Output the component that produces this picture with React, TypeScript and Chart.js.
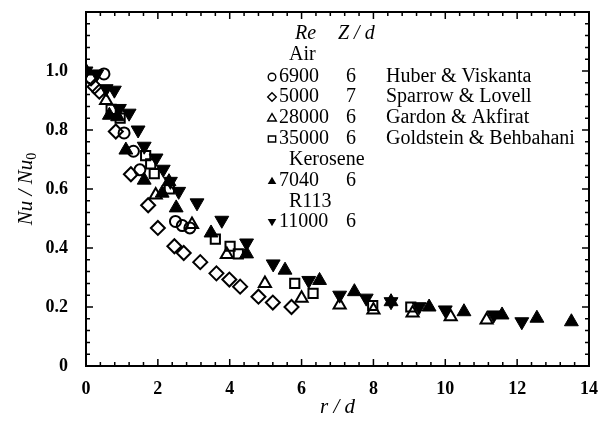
import React, { useEffect, useRef } from 'react';
import { Chart, registerables } from 'chart.js';

Chart.register(...registerables);

// Huber & Viskanta, Air, Re 6900
const circleX = [0.5, 1.06, 1.32, 1.5, 2.49, 2.68, 2.89];
const circleY = [0.99, 0.79, 0.728, 0.665, 0.49, 0.476, 0.468];
// Sparrow & Lovell, Air, Re 5000
const diamondX = [0.14, 0.24, 0.37, 0.83, 1.25, 1.73, 2.0, 2.46, 2.72, 3.18, 3.63, 3.99, 4.29, 4.8, 5.2, 5.72];
const diamondY = [0.975, 0.947, 0.93, 0.795, 0.65, 0.545, 0.468, 0.406, 0.383, 0.352, 0.314, 0.293, 0.269, 0.235, 0.215, 0.2];
// Gardon & Akfirat, Air, Re 28000
const triOpenX = [0.56, 1.94, 2.95, 3.92, 4.98, 6.0, 7.06, 8.0, 9.09, 10.15, 11.15];
const triOpenY = [0.9, 0.58, 0.48, 0.378, 0.28, 0.23, 0.207, 0.19, 0.18, 0.167, 0.156];
// Goldstein & Behbahani, Air, Re 35000
const squareX = [0.7, 0.95, 1.66, 1.8, 1.9, 2.32, 3.6, 4.01, 4.24, 5.81, 6.32, 7.98, 9.04];
const squareY = [0.87, 0.84, 0.713, 0.685, 0.652, 0.6, 0.43, 0.406, 0.38, 0.28, 0.246, 0.205, 0.2];
// Kerosene, Re 7040
const keroX = [0, 0.65, 0.88, 1.11, 1.62, 2.12, 2.31, 2.51, 3.48, 4.47, 5.54, 6.5, 7.47, 8.49, 9.55, 10.52, 11.58, 12.55, 13.51];
const keroY = [1.0, 0.85, 0.845, 0.732, 0.63, 0.586, 0.625, 0.536, 0.451, 0.38, 0.325, 0.29, 0.252, 0.218, 0.2, 0.184, 0.173, 0.162, 0.15];
// R113, Re 11000
const r113X = [0, 0.3, 0.56, 0.79, 0.93, 1.2, 1.45, 1.62, 1.95, 2.15, 2.35, 2.58, 3.09, 3.78, 4.47, 5.21, 6.2, 7.06, 7.8, 8.49, 9.27, 10.0, 11.35, 12.13];
const r113Y = [1.0, 0.99, 0.94, 0.935, 0.873, 0.857, 0.8, 0.745, 0.705, 0.667, 0.626, 0.592, 0.553, 0.494, 0.417, 0.346, 0.29, 0.24, 0.23, 0.218, 0.201, 0.19, 0.173, 0.15];

const legendRe = ['6900', '5000', '28000', '35000', '7040', '11000'];
const legendZd = ['6', '7', '6', '6', '6', '6'];
const legendAuthor = ['Huber & Viskanta', 'Sparrow & Lovell', 'Gardon & Akfirat', 'Goldstein & Behbahani', '', ''];
const legendGroups = ['Air', 'Kerosene', 'R113'];

const xMin = 0, xMax = 14, xMinor = 0.4, xMajor = 2;
const yMin = 0, yMax = 1.2, yMinor = 0.04, yMajor = 0.2, yLabelMax = 1.0;

const toPts = (xs: number[], ys: number[]) => xs.map((x, i) => ({ x, y: ys[i] }));

const isMult = (v: number, step: number) => Math.abs(v / step - Math.round(v / step)) < 1e-6;

const SERIF = '"Liberation Serif", "Times New Roman", serif';

function marker(ctx: CanvasRenderingContext2D, kind: string, x: number, y: number, r: number) {
  ctx.save();
  ctx.lineWidth = 1.4;
  ctx.strokeStyle = '#000';
  ctx.fillStyle = '#000';
  ctx.beginPath();
  if (kind === 'circle') {
    ctx.arc(x, y, r, 0, Math.PI * 2);
    ctx.stroke();
  } else if (kind === 'diamond') {
    ctx.moveTo(x, y - r); ctx.lineTo(x + r, y); ctx.lineTo(x, y + r); ctx.lineTo(x - r, y); ctx.closePath();
    ctx.stroke();
  } else if (kind === 'tri') {
    ctx.moveTo(x, y - r); ctx.lineTo(x + r, y + r * 0.7); ctx.lineTo(x - r, y + r * 0.7); ctx.closePath();
    ctx.stroke();
  } else if (kind === 'square') {
    ctx.rect(x - r * 0.85, y - r * 0.7, r * 1.7, r * 1.4);
    ctx.stroke();
  } else if (kind === 'triF') {
    ctx.moveTo(x, y - r); ctx.lineTo(x + r, y + r * 0.7); ctx.lineTo(x - r, y + r * 0.7); ctx.closePath();
    ctx.fill();
  } else if (kind === 'triDF') {
    ctx.moveTo(x, y + r); ctx.lineTo(x + r, y - r * 0.7); ctx.lineTo(x - r, y - r * 0.7); ctx.closePath();
    ctx.fill();
  }
  ctx.restore();
}

const framePlugin = {
  id: 'frame',
  afterDraw(chart: any) {
    const ctx: CanvasRenderingContext2D = chart.ctx;
    const a = chart.chartArea;
    const xs = chart.scales.x;
    const ys = chart.scales.y;
    ctx.save();
    ctx.strokeStyle = '#000';
    ctx.lineWidth = 2;
    ctx.strokeRect(a.left, a.top, a.right - a.left, a.bottom - a.top);
    ctx.lineWidth = 1.5;
    ctx.beginPath();
    xs.ticks.forEach((t: any) => {
      const p = xs.getPixelForValue(t.value);
      const len = isMult(t.value, xMajor) ? 7 : 4;
      ctx.moveTo(p, a.bottom); ctx.lineTo(p, a.bottom - len);
      ctx.moveTo(p, a.top); ctx.lineTo(p, a.top + len);
    });
    ys.ticks.forEach((t: any) => {
      const p = ys.getPixelForValue(t.value);
      const len = isMult(t.value, yMajor) ? 7 : 4;
      ctx.moveTo(a.left, p); ctx.lineTo(a.left + len, p);
      ctx.moveTo(a.right, p); ctx.lineTo(a.right - len, p);
    });
    ctx.stroke();

    // axis titles
    ctx.fillStyle = '#000';
    ctx.font = `italic 21px ${SERIF}`;
    ctx.textAlign = 'center';
    ctx.textBaseline = 'middle';
    ctx.fillText('r / d', (a.left + a.right) / 2, 407);

    ctx.save();
    ctx.translate(26, 189);
    ctx.rotate(-Math.PI / 2);
    const main = 'Nu / Nu';
    ctx.font = `italic 21px ${SERIF}`;
    const w1 = ctx.measureText(main).width;
    ctx.font = `14px ${SERIF}`;
    const w2 = ctx.measureText('0').width;
    const start = -(w1 + w2) / 2;
    ctx.textAlign = 'left';
    ctx.font = `italic 21px ${SERIF}`;
    ctx.fillText(main, start, 0);
    ctx.font = `14px ${SERIF}`;
    ctx.fillText('0', start + w1, 6);
    ctx.restore();

    // legend table
    const rowY = [77, 97, 118, 139, 181, 222];
    const groupY = [55, 160, 202];
    const kinds = ['circle', 'diamond', 'tri', 'square', 'triF', 'triDF'];
    ctx.textBaseline = 'middle';
    ctx.textAlign = 'left';
    ctx.font = `italic 20px ${SERIF}`;
    ctx.fillText('Re', 295, 34);
    ctx.fillText('Z / d', 338, 34);
    ctx.font = `20px ${SERIF}`;
    legendGroups.forEach((g, i) => ctx.fillText(g, 289, groupY[i]));
    legendRe.forEach((re, i) => {
      marker(ctx, kinds[i], 272, rowY[i], kinds[i] === 'circle' ? 3.8 : 4.3);
      ctx.fillText(re, 279, rowY[i]);
      ctx.fillText(legendZd[i], 346, rowY[i]);
      if (legendAuthor[i]) ctx.fillText(legendAuthor[i], 386, rowY[i]);
    });
    ctx.restore();
  },
};

export default function App() {
  const ref = useRef<HTMLCanvasElement>(null);
  useEffect(() => {
    if (!ref.current) return;
    const open = 'rgba(255,255,255,0)';
    const chart = new Chart(ref.current, {
      type: 'scatter',
      data: {
        datasets: [
          { label: 'R113 11000', data: toPts(r113X, r113Y), pointStyle: 'triangle', rotation: 180, pointRadius: 8, backgroundColor: '#000', borderColor: '#000', borderWidth: 1 },
          { label: 'Kerosene 7040', data: toPts(keroX, keroY), pointStyle: 'triangle', pointRadius: 8, backgroundColor: '#000', borderColor: '#000', borderWidth: 1 },
          { label: 'Goldstein & Behbahani', data: toPts(squareX, squareY), pointStyle: 'rect', pointRadius: 6.5, backgroundColor: open, borderColor: '#000', borderWidth: 2 },
          { label: 'Gardon & Akfirat', data: toPts(triOpenX, triOpenY), pointStyle: 'triangle', pointRadius: 7, backgroundColor: open, borderColor: '#000', borderWidth: 2 },
          { label: 'Sparrow & Lovell', data: toPts(diamondX, diamondY), pointStyle: 'rectRot', pointRadius: 7, backgroundColor: open, borderColor: '#000', borderWidth: 2 },
          { label: 'Huber & Viskanta', data: toPts(circleX, circleY), pointStyle: 'circle', pointRadius: 5.5, backgroundColor: open, borderColor: '#000', borderWidth: 2 },
        ],
      },
      options: {
        responsive: false,
        animation: false,
        layout: { padding: { left: 0, top: 12, right: 6, bottom: 0 } },
        plugins: { legend: { display: false }, tooltip: { enabled: false } },
        scales: {
          x: {
            type: 'linear',
            min: xMin,
            max: xMax,
            grid: { display: false },
            border: { display: false },
            ticks: {
              stepSize: xMinor,
              autoSkip: false,
              maxRotation: 0,
              padding: 5,
              color: '#000',
              font: { family: SERIF, size: 18, weight: 'bold' },
              callback: (v: any) => (isMult(Number(v), xMajor) ? String(Math.round(Number(v))) : ''),
            },
            afterFit: (s: any) => { s.height = 58; s.paddingRight = 0; s.paddingLeft = 0; },
          },
          y: {
            type: 'linear',
            min: yMin,
            max: yMax,
            grid: { display: false },
            border: { display: false },
            ticks: {
              stepSize: yMinor,
              autoSkip: false,
              padding: 10,
              color: '#000',
              font: { family: SERIF, size: 18, weight: 'bold' },
              callback: (v: any) => {
                const n = Number(v);
                if (!isMult(n, yMajor) || n > yLabelMax + 1e-6) return '';
                return Math.abs(n) < 1e-9 ? '0' : n.toFixed(1);
              },
            },
            afterFit: (s: any) => { s.width = 86; s.paddingTop = 0; s.paddingBottom = 0; },
          },
        },
      } as any,
      plugins: [framePlugin],
    });
    return () => chart.destroy();
  }, []);
  return (
    <div style={{ position: 'fixed', left: 0, top: 0, width: 598, height: 424, background: '#fff' }}>
      <canvas ref={ref} width={598} height={424} style={{ display: 'block' }} />
    </div>
  );
}
